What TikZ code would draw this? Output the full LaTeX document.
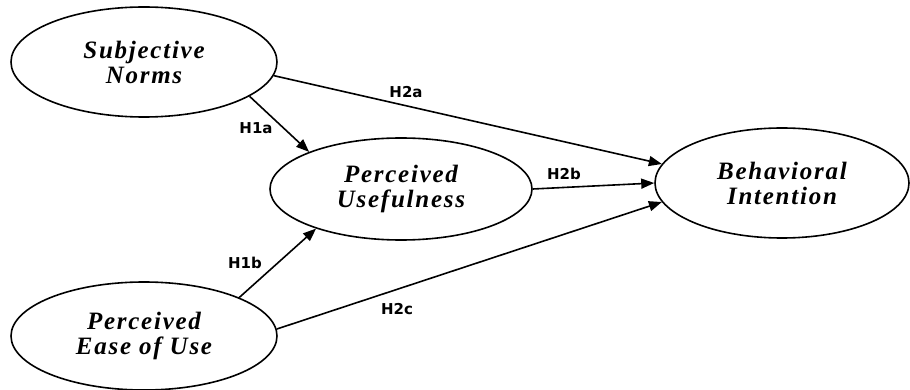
\documentclass[tikz,border=0pt]{standalone}
\usepackage{fontspec}
\setmainfont{Liberation Serif}
\newfontfamily\cfont[LetterSpace=7]{Liberation Serif}
\newfontfamily\lblfont{DejaVu Sans}
\usetikzlibrary{shapes.geometric,arrows.meta}
\begin{document}
\begin{tikzpicture}[x=1pt,y=-1pt,
  construct/.style={ellipse,draw,line width=1.6pt,inner sep=0pt,align=center,
    font=\cfont\fontsize{25}{25}\selectfont\bfseries\itshape},
  path/.style={line width=1.6pt,-{Triangle[length=13pt,width=10pt]}},
  hyp/.style={font=\lblfont\bfseries\fontsize{15}{17}\selectfont}]
\useasboundingbox (0,0) rectangle (910,390);
\node[construct,minimum width=266pt,minimum height=110pt] (sn) at (144,62) {Subjective\\Norms};
\node[construct,minimum width=262pt,minimum height=102pt] (pu) at (401,189) {Perceived\\Usefulness};
\node[construct,minimum width=254pt,minimum height=110pt] (bi) at (782,183) {Behavioral\\Intention};
\node[construct,minimum width=266pt,minimum height=108pt] (pe) at (144,336) {Perceived\\Ease of Use};
\draw[path] (sn.-18) -- (pu.158);
\draw[path] (sn.-6) -- (bi.171);
\draw[path] (pu.0) -- (bi.180);
\draw[path] (pe.22) -- (pu.205);
\draw[path] (pe.3) -- (bi.189);
\node[hyp] (l1a) at (256,128) {H1a};
\node[hyp] (l2a) at (406,92) {H2a};
\node[hyp] (l2b) at (564,174) {H2b};
\node[hyp] (l1b) at (245,263) {H1b};
\node[hyp] (l2c) at (397,309) {H2c};
\end{tikzpicture}
\end{document}
